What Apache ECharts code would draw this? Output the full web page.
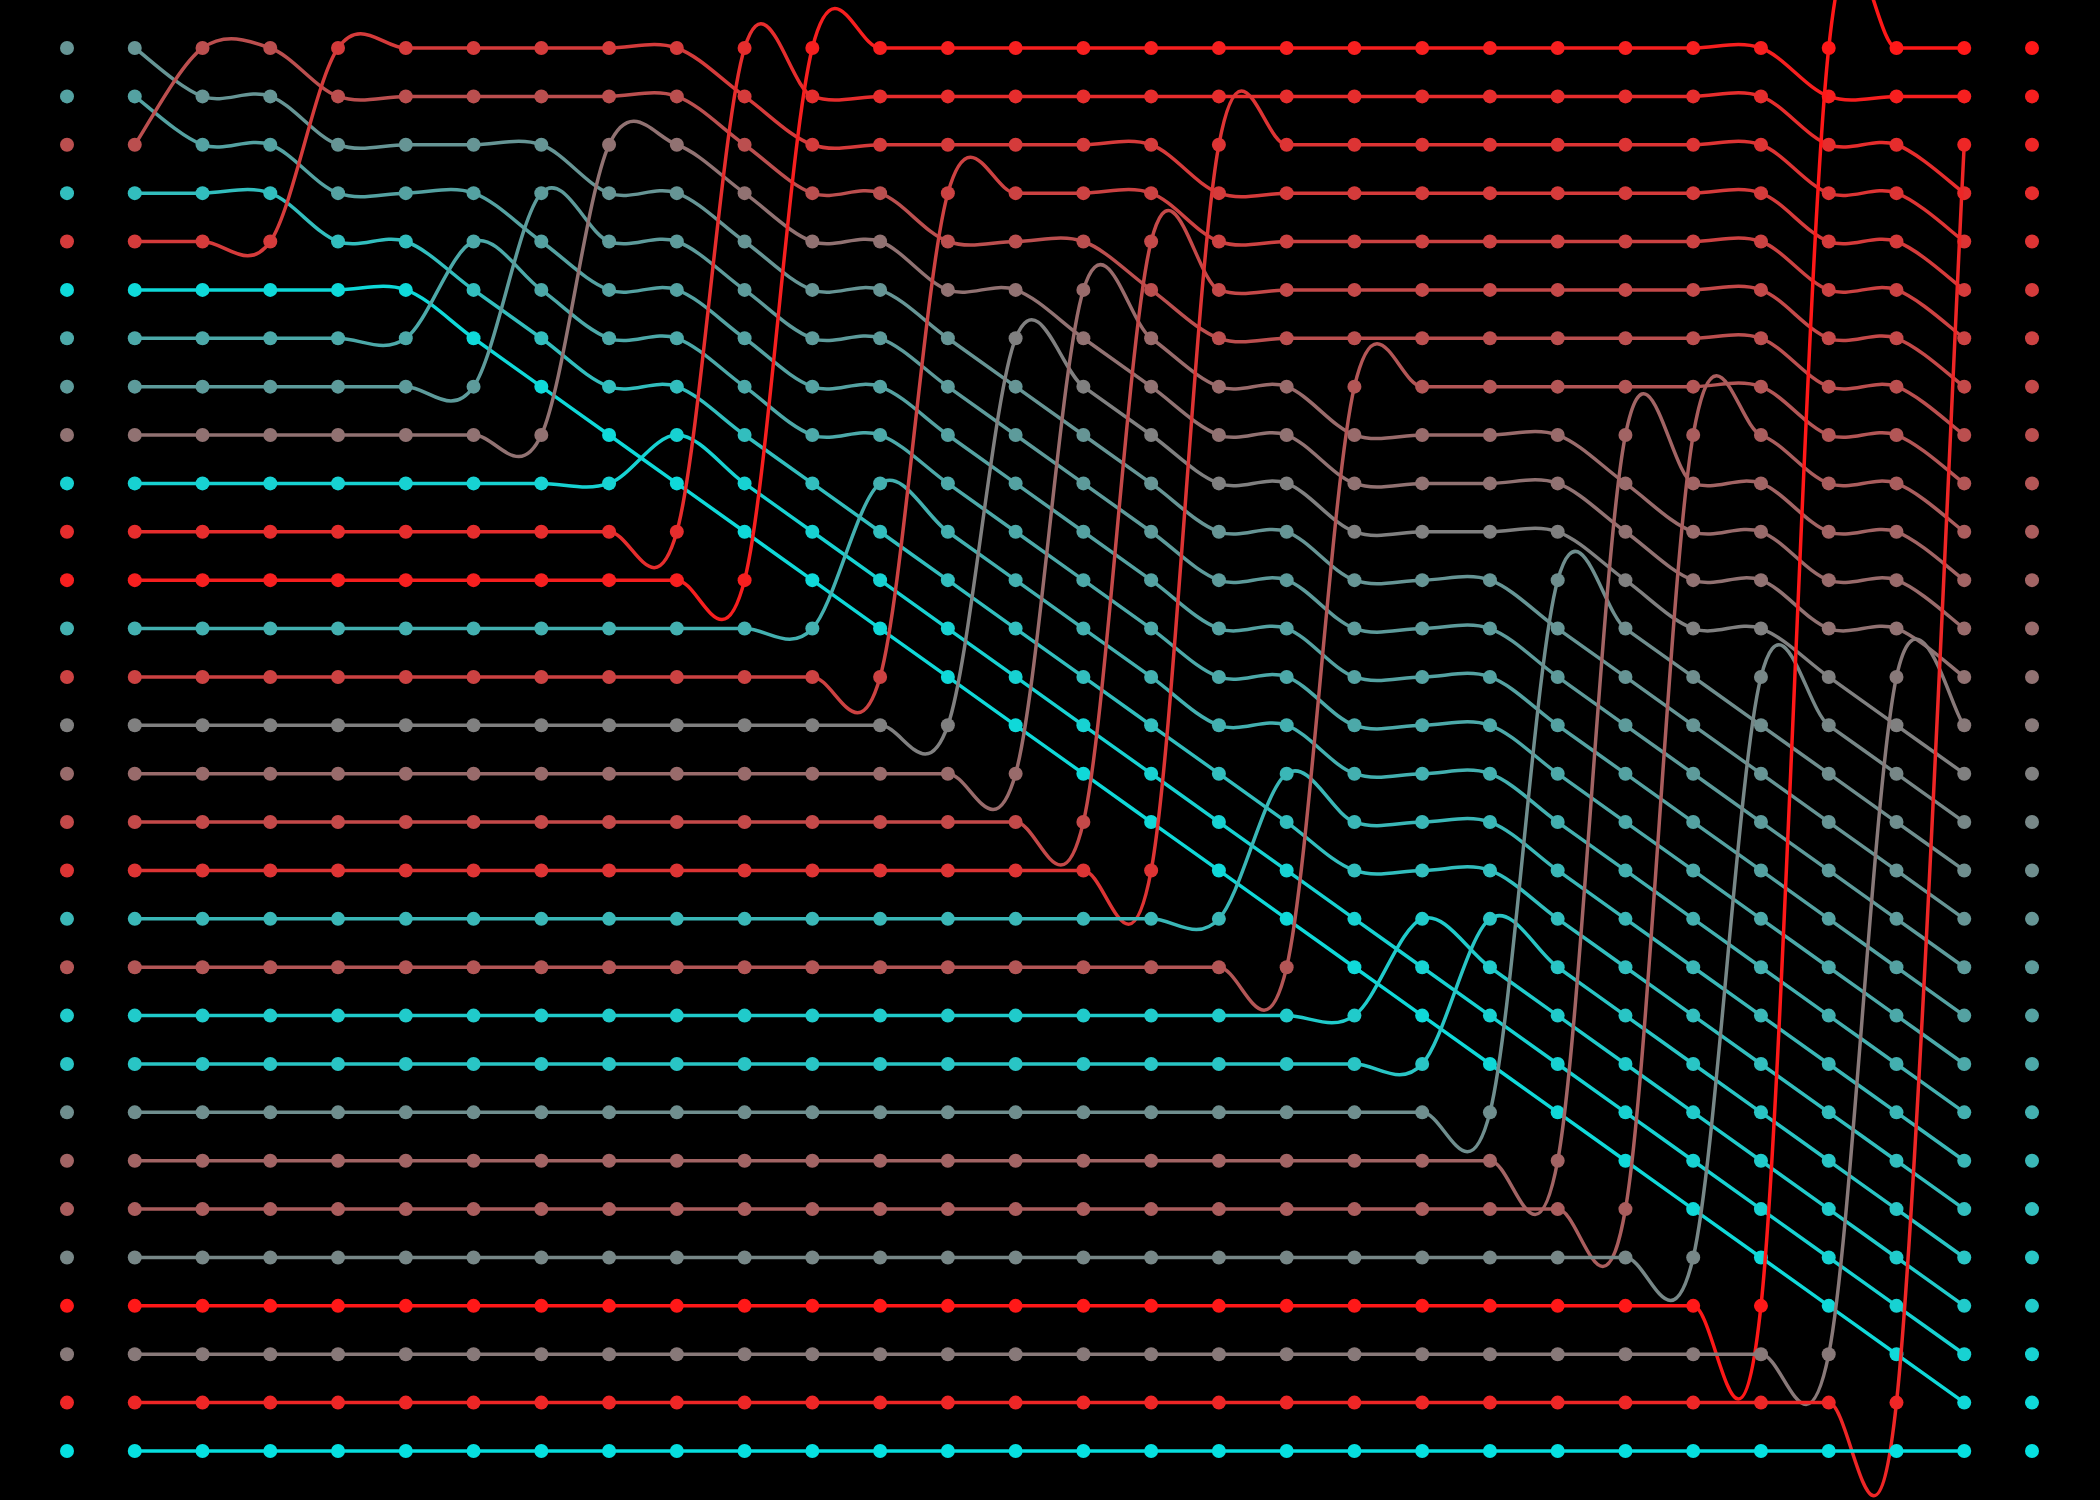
<!DOCTYPE html>
<html>
<head>
<meta charset="utf-8">
<script src="https://cdn.jsdelivr.net/npm/echarts@6/dist/echarts.min.js"></script>
<style>
html,body{margin:0;padding:0;background:#000;}
#chart{width:2100px;height:1500px;}
</style>
</head>
<body>
<div id="chart"></div>
<script>
// Step columns (x) and element rows (y)
const steps = [0,1,2,3,4,5,6,7,8,9,10,11,12,13,14,15,16,17,18,19,20,21,22,23,24,25,26,27];

// Final sorted position of each element (drives its colour)
const finalRank = [18,20,8,24,5,28,21,19,13,27,3,1,22,6,15,12,7,4,23,9,26,25,17,11,10,16,0,14,2,29];

// Row of each element at every step
const rowsE00 = [0,1,1,2,2,2,2,3,3,4,5,5,6,7,8,9,10,10,11,11,11,12,13,14,15,16,17,18];
const rowsE01 = [1,2,2,3,3,3,4,5,5,6,7,7,8,9,10,11,12,12,13,13,13,14,15,16,17,18,19,20];
const rowsE02 = [2,0,0,1,1,1,1,1,1,2,3,3,4,4,4,5,6,6,6,6,6,6,6,6,6,7,7,8];
const rowsE03 = [3,3,3,4,4,5,6,7,7,8,9,10,11,12,13,14,15,16,17,17,17,18,19,20,21,22,23,24];
const rowsE04 = [4,4,4,0,0,0,0,0,0,1,2,2,2,2,2,2,3,3,3,3,3,3,3,3,3,4,4,5];
const rowsE05 = [5,5,5,5,5,6,7,8,9,10,11,12,13,14,15,16,17,18,19,20,21,22,23,24,25,26,27,28];
const rowsE06 = [6,6,6,6,6,4,5,6,6,7,8,8,9,10,11,12,13,13,14,14,14,15,16,17,18,19,20,21];
const rowsE07 = [7,7,7,7,7,7,3,4,4,5,6,6,7,8,9,10,11,11,12,12,12,13,14,15,16,17,18,19];
const rowsE08 = [8,8,8,8,8,8,8,2,2,3,4,4,5,5,6,7,8,8,9,9,9,9,10,11,11,12,12,13];
const rowsE09 = [9,9,9,9,9,9,9,9,8,9,10,11,12,13,14,15,16,17,18,19,20,21,22,23,24,25,26,27];
const rowsE10 = [10,10,10,10,10,10,10,10,10,0,1,1,1,1,1,1,1,1,1,1,1,1,1,1,1,2,2,3];
const rowsE11 = [11,11,11,11,11,11,11,11,11,11,0,0,0,0,0,0,0,0,0,0,0,0,0,0,0,1,1,1];
const rowsE12 = [12,12,12,12,12,12,12,12,12,12,12,9,10,11,12,13,14,14,15,15,15,16,17,18,19,20,21,22];
const rowsE13 = [13,13,13,13,13,13,13,13,13,13,13,13,3,3,3,3,4,4,4,4,4,4,4,4,4,5,5,6];
const rowsE14 = [14,14,14,14,14,14,14,14,14,14,14,14,14,6,7,8,9,9,10,10,10,10,11,12,12,13,14,15];
const rowsE15 = [15,15,15,15,15,15,15,15,15,15,15,15,15,15,5,6,7,7,8,8,8,8,9,10,10,11,11,12];
const rowsE16 = [16,16,16,16,16,16,16,16,16,16,16,16,16,16,16,4,5,5,5,5,5,5,5,5,5,6,6,7];
const rowsE17 = [17,17,17,17,17,17,17,17,17,17,17,17,17,17,17,17,2,2,2,2,2,2,2,2,2,3,3,4];
const rowsE18 = [18,18,18,18,18,18,18,18,18,18,18,18,18,18,18,18,18,15,16,16,16,17,18,19,20,21,22,23];
const rowsE19 = [19,19,19,19,19,19,19,19,19,19,19,19,19,19,19,19,19,19,7,7,7,7,7,7,7,8,8,9];
const rowsE20 = [20,20,20,20,20,20,20,20,20,20,20,20,20,20,20,20,20,20,20,18,19,20,21,22,23,24,25,26];
const rowsE21 = [21,21,21,21,21,21,21,21,21,21,21,21,21,21,21,21,21,21,21,21,18,19,20,21,22,23,24,25];
const rowsE22 = [22,22,22,22,22,22,22,22,22,22,22,22,22,22,22,22,22,22,22,22,22,11,12,13,14,15,16,17];
const rowsE23 = [23,23,23,23,23,23,23,23,23,23,23,23,23,23,23,23,23,23,23,23,23,23,8,9,9,10,10,11];
const rowsE24 = [24,24,24,24,24,24,24,24,24,24,24,24,24,24,24,24,24,24,24,24,24,24,24,8,8,9,9,10];
const rowsE25 = [25,25,25,25,25,25,25,25,25,25,25,25,25,25,25,25,25,25,25,25,25,25,25,25,13,14,15,16];
const rowsE26 = [26,26,26,26,26,26,26,26,26,26,26,26,26,26,26,26,26,26,26,26,26,26,26,26,26,0,0,0];
const rowsE27 = [27,27,27,27,27,27,27,27,27,27,27,27,27,27,27,27,27,27,27,27,27,27,27,27,27,27,13,14];
const rowsE28 = [28,28,28,28,28,28,28,28,28,28,28,28,28,28,28,28,28,28,28,28,28,28,28,28,28,28,28,2];
const rowsE29 = [29,29,29,29,29,29,29,29,29,29,29,29,29,29,29,29,29,29,29,29,29,29,29,29,29,29,29,29];

const allRows = [rowsE00,rowsE01,rowsE02,rowsE03,rowsE04,rowsE05,rowsE06,rowsE07,rowsE08,rowsE09,
  rowsE10,rowsE11,rowsE12,rowsE13,rowsE14,rowsE15,rowsE16,rowsE17,rowsE18,rowsE19,
  rowsE20,rowsE21,rowsE22,rowsE23,rowsE24,rowsE25,rowsE26,rowsE27,rowsE28,rowsE29];

// colour ramp: red -> gray -> cyan by rank
const RED = [255, 24, 24], GRAY = [128, 128, 128], CYAN = [6, 224, 224];
function rankColor(r) {
  let a, b, t;
  if (r <= 15) { a = RED; b = GRAY; t = r / 15; }
  else { a = GRAY; b = CYAN; t = (r - 15) / 14; }
  const c = a.map((v, i) => Math.round(v + (b[i] - v) * t));
  return 'rgb(' + c.join(',') + ')';
}

const LW = 3.5, R = 7, K = 1 / 6;

function lineSeries(rows, color) {
  const n = rows.length;
  return {
    type: 'custom',
    coordinateSystem: 'cartesian2d',
    clip: false,
    z: 2,
    silent: true,
    data: steps.map((s, i) => [s, rows[i]]),
    renderItem: function (params, api) {
      const i = params.dataIndex;
      const pt = k => api.coord([steps[k], rows[k]]);
      const p1 = pt(i);
      const children = [];
      if (i < n - 1) {
        const p0 = pt(Math.max(i - 1, 0));
        const p2 = pt(i + 1);
        const p3 = pt(Math.min(i + 2, n - 1));
        children.push({
          type: 'bezierCurve',
          shape: {
            x1: p1[0], y1: p1[1], x2: p2[0], y2: p2[1],
            cpx1: p1[0] + (p2[0] - p0[0]) * K, cpy1: p1[1] + (p2[1] - p0[1]) * K,
            cpx2: p2[0] - (p3[0] - p1[0]) * K, cpy2: p2[1] - (p3[1] - p1[1]) * K
          },
          style: { stroke: color, lineWidth: LW, fill: null, lineCap: 'round' }
        });
      }
      children.push({ type: 'circle', shape: { cx: p1[0], cy: p1[1], r: R }, style: { fill: color } });
      return { type: 'group', children: children };
    }
  };
}

const series = allRows.map((rows, e) => lineSeries(rows, rankColor(finalRank[e])));

// left column: initial order colours; right column: final order colours
series.push({
  type: 'scatter', symbolSize: 2 * R, silent: true,
  data: allRows.map((rows, e) => ({ value: [-1, rows[0]], itemStyle: { color: rankColor(finalRank[e]), opacity: 1 } }))
});
series.push({
  type: 'scatter', symbolSize: 2 * R, silent: true,
  data: allRows.map((rows, e) => ({ value: [28, rows[rows.length - 1]], itemStyle: { color: rankColor(finalRank[e]), opacity: 1 } }))
});

const chart = echarts.init(document.getElementById('chart'), null, { renderer: 'canvas' });
chart.setOption({
  backgroundColor: '#000000',
  animation: false,
  grid: { left: 67, right: 68, top: 48, bottom: 49 },
  xAxis: { type: 'value', min: -1, max: 28, show: false },
  yAxis: { type: 'value', min: 0, max: 29, inverse: true, show: false },
  series: series
});
</script>
</body>
</html>
